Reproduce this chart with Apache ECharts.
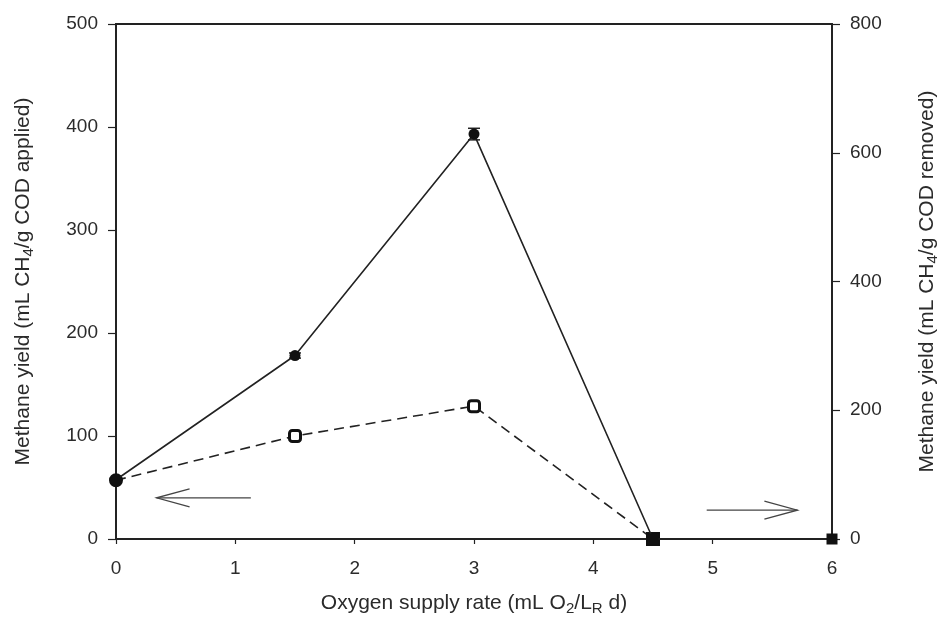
<!DOCTYPE html>
<html>
<head>
<meta charset="utf-8">
<script src="https://cdn.jsdelivr.net/npm/echarts@6/dist/echarts.min.js"></script>
<style>
  html, body { margin: 0; padding: 0; background: #fff; }
  #chart { width: 942px; height: 630px; }
</style>
</head>
<body>
<div id="chart"></div>
<script>
// Oxygen supply rate (mL O2/LR d)
const oxygenRate = [0, 1.5, 3, 4.5, 6];
// Methane yield per g COD applied (left axis)
const yieldApplied = [57, 100, 129, 0];
const yieldAppliedErr = [0, 2, 3, 0];
// Methane yield per g COD removed (right axis)
const yieldRemoved = [92, 285, 629, 0, 0];
const yieldRemovedErr = [0, 4, 9, 0, 0];
// Axis ticks
const xTicks = [0, 1, 2, 3, 4, 5, 6];
const leftTicks = [0, 100, 200, 300, 400, 500];
const rightTicks = [0, 200, 400, 600, 800];

const font = 'Liberation Sans, Arial, sans-serif';
const ink = '#222';
const textInk = '#2b2b2b';

const chart = echarts.init(document.getElementById('chart'));

function pairs(xs, ys) { return ys.map((y, i) => [xs[i], y]); }
function errData(xs, ys, es) { return ys.map((y, i) => [xs[i], y - es[i], y + es[i]]); }

function errorBarSeries(name, yAxisIndex, data) {
  return {
    name, type: 'custom', yAxisIndex, silent: true, z: 1,
    renderItem(params, api) {
      const lo = api.coord([api.value(0), api.value(1)]);
      const hi = api.coord([api.value(0), api.value(2)]);
      if (Math.abs(hi[1] - lo[1]) < 1) return null;
      const w = 6;
      const style = { stroke: ink, lineWidth: 1.5 };
      return {
        type: 'group',
        children: [
          { type: 'line', shape: { x1: lo[0], y1: lo[1], x2: hi[0], y2: hi[1] }, style },
          { type: 'line', shape: { x1: hi[0] - w, y1: hi[1], x2: hi[0] + w, y2: hi[1] }, style },
          { type: 'line', shape: { x1: lo[0] - w, y1: lo[1], x2: lo[0] + w, y2: lo[1] }, style }
        ]
      };
    },
    data
  };
}

const subRich = {
  sub: { fontFamily: font, fontSize: 15, color: textInk, padding: [11, 0, 0, 0] },
  n: { fontFamily: font, fontSize: 21, color: textInk }
};

const tickLabel = { color: textInk, fontSize: 19, fontFamily: font };

chart.setOption({
  animation: false,
  textStyle: { fontFamily: font },
  grid: {
    left: 116, right: 110, top: 24, bottom: 91,
    outerBoundsMode: 'none', containLabel: false,
    show: true, borderColor: ink, borderWidth: 1.8, backgroundColor: 'transparent'
  },
  xAxis: {
    type: 'value', min: 0, max: 6, interval: 1,
    name: '{n|Oxygen supply rate (mL O}{sub|2}{n|/L}{sub|R}{n| d)}',
    nameLocation: 'middle', nameGap: 51,
    nameTextStyle: { rich: subRich },
    axisLine: { lineStyle: { color: ink, width: 1.8 } },
    axisTick: { show: true, length: 5, lineStyle: { color: ink, width: 1.2 } },
    axisLabel: Object.assign({ margin: 20 }, tickLabel),
    splitLine: { show: false }
  },
  yAxis: [
    {
      type: 'value', min: 0, max: 500, interval: 100, position: 'left',
      name: '{n|Methane yield (mL CH}{sub|4}{n|/g COD applied)}',
      nameLocation: 'middle', nameGap: 80, nameRotate: 90,
      nameTextStyle: { rich: subRich },
      axisLine: { show: true, lineStyle: { color: ink, width: 1.8 } },
      axisTick: { show: true, length: 8, lineStyle: { color: ink, width: 1.2 } },
      axisLabel: Object.assign({ margin: 18 }, tickLabel),
      splitLine: { show: false }
    },
    {
      type: 'value', min: 0, max: 800, interval: 200, position: 'right',
      name: '{n|Methane yield (mL CH}{sub|4}{n|/g COD removed)}',
      nameLocation: 'middle', nameGap: 82, nameRotate: 90,
      nameTextStyle: { rich: subRich },
      axisLine: { show: true, lineStyle: { color: ink, width: 1.8 } },
      axisTick: { show: true, length: 8, lineStyle: { color: ink, width: 1.2 } },
      axisLabel: Object.assign({ margin: 18 }, tickLabel),
      splitLine: { show: false }
    }
  ],
  series: [
    {
      name: 'COD removed', type: 'line', yAxisIndex: 1,
      data: pairs(oxygenRate, yieldRemoved),
      symbol: (v) => (v[1] === 0 ? 'rect' : 'circle'),
      symbolSize: 11,
      itemStyle: { color: '#111' },
      lineStyle: { color: ink, width: 1.6 },
      z: 3
    },
    {
      name: 'COD applied', type: 'line', yAxisIndex: 0,
      data: pairs(oxygenRate, yieldApplied).map((d, i) =>
        i === 0 ? { value: d, itemStyle: { color: '#111' } } : d),
      symbol: (v) => (v[0] === 0 ? 'circle' : (v[1] === 0 ? 'rect' : 'roundRect')),
      symbolSize: 11,
      itemStyle: { color: '#fff', borderColor: '#111', borderWidth: 3 },
      lineStyle: { color: ink, width: 1.6, type: [10, 6] },
      z: 2
    },
    errorBarSeries('COD removed err', 1, errData(oxygenRate, yieldRemoved, yieldRemovedErr)),
    errorBarSeries('COD applied err', 0, errData(oxygenRate, yieldApplied, yieldAppliedErr))
  ]
});

// Arrows pointing to the axis each curve belongs to (data coordinates)
const arrows = [
  { from: [1.13, 40], to: [0.34, 40] },
  { from: [4.95, 28], to: [5.71, 28] }
];
const arrowGraphics = arrows.map((a) => {
  const p0 = chart.convertToPixel({ xAxisIndex: 0, yAxisIndex: 0 }, a.from);
  const p1 = chart.convertToPixel({ xAxisIndex: 0, yAxisIndex: 0 }, a.to);
  const dir = Math.sign(p1[0] - p0[0]);
  const hx = p1[0] - dir * 33, hy = 9;
  return {
    type: 'group',
    children: [
      { type: 'line', shape: { x1: p0[0], y1: p0[1], x2: p1[0], y2: p1[1] }, style: { stroke: '#444', lineWidth: 1.3 } },
      { type: 'polyline', shape: { points: [[hx, p1[1] - hy], [p1[0], p1[1]], [hx, p1[1] + hy]] }, style: { stroke: '#444', lineWidth: 1.3, fill: null } }
    ]
  };
});
chart.setOption({ graphic: arrowGraphics });
</script>
</body>
</html>
